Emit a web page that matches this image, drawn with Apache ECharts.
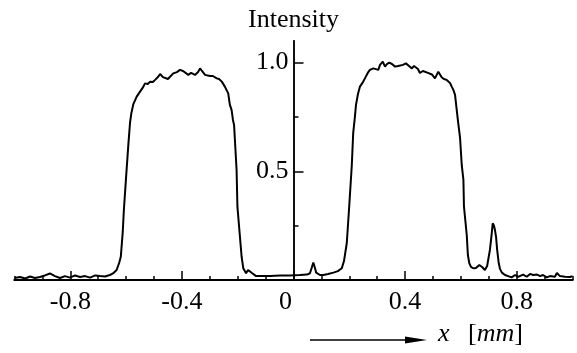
<!DOCTYPE html>
<html>
<head>
<meta charset="utf-8">
<script src="https://cdn.jsdelivr.net/npm/echarts@6/dist/echarts.min.js"></script>
<style>
  html, body { margin: 0; padding: 0; background: #fff; }
  #chart { width: 577px; height: 353px; }
</style>
</head>
<body>
<div id="chart"></div>
<script>
// profile: position x [mm] and relative intensity
const xPos = [
  -1.000, -0.980, -0.962, -0.944, -0.927, -0.909, -0.891, -0.873, -0.855, -0.837,
  -0.819, -0.801, -0.783, -0.765, -0.747, -0.729, -0.711, -0.694, -0.676, -0.658,
  -0.647, -0.634, -0.625, -0.619, -0.612, -0.608, -0.600, -0.592, -0.586, -0.581,
  -0.574, -0.562, -0.550, -0.539, -0.532, -0.522, -0.514, -0.504, -0.496, -0.486,
  -0.478, -0.468, -0.461, -0.450, -0.443, -0.431, -0.418, -0.407, -0.396, -0.389,
  -0.377, -0.367, -0.353, -0.342, -0.335, -0.328, -0.317, -0.299, -0.289, -0.275,
  -0.267, -0.257, -0.246, -0.234, -0.228, -0.222, -0.217, -0.213, -0.208, -0.204,
  -0.201, -0.194, -0.186, -0.180, -0.170, -0.163, -0.156, -0.149, -0.144, -0.134,
  -0.120, -0.084, -0.048, -0.013, 0.023, 0.048, 0.059, 0.065, 0.071, 0.077,
  0.081, 0.095, 0.107, 0.124, 0.143, 0.159, 0.173, 0.181, 0.191, 0.200,
  0.209, 0.214, 0.220, 0.224, 0.231, 0.238, 0.249, 0.256, 0.268, 0.274,
  0.286, 0.292, 0.304, 0.310, 0.320, 0.328, 0.335, 0.343, 0.353, 0.364,
  0.375, 0.382, 0.392, 0.403, 0.414, 0.424, 0.432, 0.439, 0.446, 0.453,
  0.464, 0.471, 0.482, 0.489, 0.496, 0.507, 0.519, 0.531, 0.539, 0.549,
  0.561, 0.567, 0.573, 0.579, 0.585, 0.590, 0.597, 0.603, 0.609, 0.611,
  0.621, 0.625, 0.630, 0.636, 0.644, 0.654, 0.666, 0.676, 0.686, 0.694,
  0.699, 0.704, 0.710, 0.714, 0.719, 0.722, 0.726, 0.730, 0.735, 0.740,
  0.747, 0.758, 0.769, 0.782, 0.794, 0.805, 0.812, 0.823, 0.836, 0.848,
  0.859, 0.873, 0.884, 0.894, 0.908, 0.919, 0.937, 0.944, 0.949, 0.955,
  0.973, 0.991, 1.000
];
const intensity = [
  0.009, 0.014, 0.007, 0.016, 0.009, 0.014, 0.021, 0.030, 0.018, 0.009,
  0.018, 0.011, 0.021, 0.014, 0.018, 0.011, 0.021, 0.018, 0.016, 0.023,
  0.030, 0.046, 0.078, 0.107, 0.221, 0.322, 0.474, 0.621, 0.722, 0.768,
  0.809, 0.843, 0.866, 0.887, 0.904, 0.901, 0.912, 0.910, 0.920, 0.933,
  0.947, 0.933, 0.935, 0.924, 0.927, 0.950, 0.956, 0.966, 0.961, 0.958,
  0.943, 0.952, 0.943, 0.956, 0.973, 0.961, 0.943, 0.938, 0.938, 0.927,
  0.924, 0.912, 0.889, 0.858, 0.805, 0.782, 0.736, 0.713, 0.598, 0.506,
  0.337, 0.230, 0.107, 0.054, 0.031, 0.046, 0.054, 0.032, 0.023, 0.018,
  0.018, 0.018, 0.021, 0.021, 0.023, 0.025, 0.031, 0.055, 0.080, 0.055,
  0.034, 0.023, 0.023, 0.028, 0.034, 0.041, 0.054, 0.087, 0.170, 0.345,
  0.529, 0.676, 0.749, 0.805, 0.855, 0.889, 0.910, 0.927, 0.956, 0.966,
  0.973, 0.979, 0.966, 0.989, 1.004, 0.981, 0.993, 0.999, 0.993, 0.981,
  0.984, 0.981, 0.989, 0.996, 0.984, 0.973, 0.984, 0.989, 0.970, 0.952,
  0.961, 0.958, 0.952, 0.943, 0.945, 0.927, 0.958, 0.932, 0.924, 0.920,
  0.906, 0.889, 0.874, 0.851, 0.782, 0.726, 0.653, 0.529, 0.460, 0.337,
  0.207, 0.115, 0.078, 0.060, 0.054, 0.055, 0.069, 0.060, 0.046, 0.064,
  0.101, 0.138, 0.207, 0.261, 0.248, 0.230, 0.198, 0.138, 0.083, 0.051,
  0.034, 0.023, 0.018, 0.012, 0.023, 0.014, 0.018, 0.025, 0.015, 0.028,
  0.023, 0.025, 0.018, 0.023, 0.012, 0.018, 0.015, 0.032, 0.038, 0.018,
  0.015, 0.014, 0.018
];

// axis ticks and labels
const xLabelTicks = [-0.8, -0.4, 0, 0.4, 0.8];
const xMinorTicks = [-1, -0.9, -0.7, -0.6, -0.5, -0.3, -0.2, -0.1, 0.1, 0.2, 0.3, 0.5, 0.6, 0.7, 0.9, 1];
const yLabelTicks = [0.5, 1.0];
const yMinorTicks = [0.25, 0.75];

const serif = '"Liberation Serif", "DejaVu Serif", serif';
const fs = 26;

const chart = echarts.init(document.getElementById("chart"));

// y axis sits at x = 0: shift it right from the grid's left edge
const yOffset = -279;

chart.setOption({
  animation: false,
  backgroundColor: "#fff",
  grid: { left: 14.5, right: 4.5, top: 40.75, bottom: 73, containLabel: false, outerBoundsMode: "none" },
  xAxis: [
    {
      type: "value",
      min: -1,
      max: 1,
      axisLine: { onZero: false, lineStyle: { color: "#000", width: 2 } },
      axisTick: { inside: true, length: 9, customValues: xLabelTicks, lineStyle: { color: "#000", width: 1.5 } },
      axisLabel: {
        customValues: xLabelTicks,
        margin: 9,
        color: "#000",
        fontFamily: serif,
        fontSize: fs,
        formatter: (v) => (v === 0 ? "{z|0}" : String(v)),
        rich: { z: { fontFamily: serif, fontSize: fs, color: "#000", padding: [0, 16, 0, 0] } },
      },
      splitLine: { show: false },
    },
    {
      type: "value",
      position: "bottom",
      min: -1,
      max: 1,
      axisLine: { onZero: false, lineStyle: { color: "#000", width: 2 } },
      axisTick: { inside: true, length: 4, customValues: xMinorTicks, lineStyle: { color: "#000", width: 1.5 } },
      axisLabel: { show: false },
      splitLine: { show: false },
    },
  ],
  yAxis: [
    {
      type: "value",
      position: "left",
      offset: yOffset,
      min: 0,
      max: 1.1,
      name: "Intensity",
      nameLocation: "end",
      nameGap: 8,
      nameTextStyle: { color: "#000", fontFamily: serif, fontSize: fs },
      axisLine: { onZero: false, lineStyle: { color: "#000", width: 1.5 } },
      axisTick: { inside: true, length: 10, customValues: yLabelTicks, lineStyle: { color: "#000", width: 1.5 } },
      axisLabel: {
        customValues: yLabelTicks,
        margin: 5,
        color: "#000",
        fontFamily: serif,
        fontSize: fs,
        padding: [0, 0, 5, 0],
        formatter: (v) => v.toFixed(1),
      },
      splitLine: { show: false },
    },
    {
      type: "value",
      position: "left",
      offset: yOffset,
      min: 0,
      max: 1.1,
      axisLine: { onZero: false, lineStyle: { color: "#000", width: 1.5 } },
      axisTick: { inside: true, length: 5, customValues: yMinorTicks, lineStyle: { color: "#000", width: 1.5 } },
      axisLabel: { show: false },
      splitLine: { show: false },
    },
  ],
  graphic: [
    // arrow under the axis
    { type: "line", shape: { x1: 310, y1: 340, x2: 410, y2: 340 }, style: { stroke: "#000", lineWidth: 1.5 } },
    { type: "polygon", shape: { points: [[405, 336.5], [427, 340], [405, 343.5]] }, style: { fill: "#000" } },
    {
      type: "text",
      x: 438,
      y: 334,
      style: { text: "x", font: "italic " + fs + "px " + serif, fill: "#000", verticalAlign: "middle" },
    },
    {
      type: "text",
      x: 468,
      y: 334,
      style: {
        text: "[{i|mm}]",
        font: fs + "px " + serif,
        fill: "#000",
        verticalAlign: "middle",
        rich: { i: { fontStyle: "italic", fontFamily: serif, fontSize: fs, fill: "#000" } },
      },
    },
  ],
  series: [
    {
      type: "line",
      xAxisIndex: 0,
      yAxisIndex: 0,
      data: xPos.map((x, i) => [x, intensity[i]]),
      showSymbol: false,
      smooth: false,
      lineStyle: { color: "#000", width: 2 },
      silent: true,
    },
  ],
});
</script>
</body>
</html>
